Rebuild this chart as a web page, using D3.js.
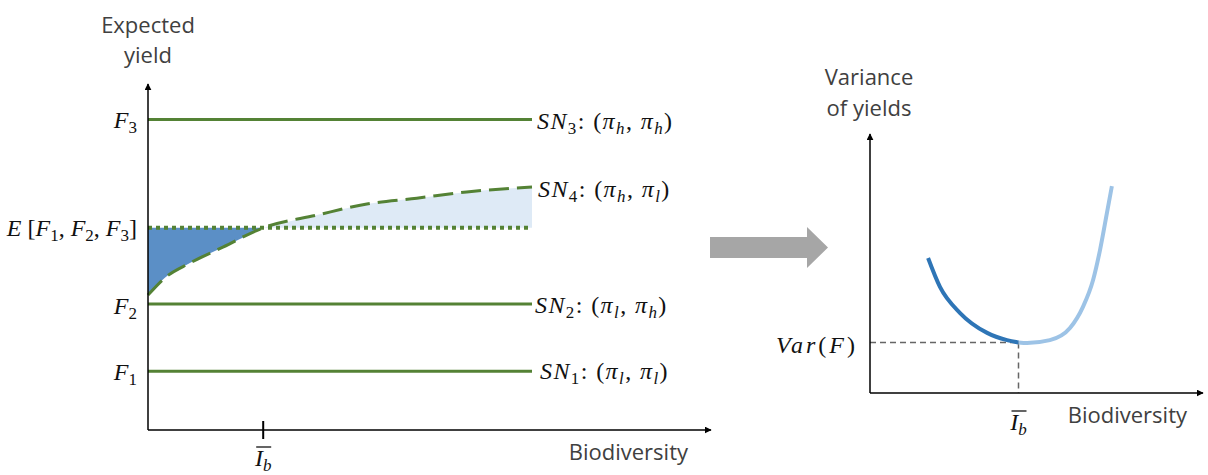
<html>
<head>
<meta charset="utf-8"/>
<title>Expected yield and variance vs biodiversity</title>
<script src="https://d3js.org/d3.v7.min.js"></script>
</head>
<style>
    body { margin: 0; background: #fff; }
    svg { display: block; }
    .lab { font-family: "Open Sans", Lato, sans-serif; fill: #404040; font-size: 22px; }
    .math { font-family: "Liberation Serif", "DejaVu Serif", serif; fill: #111; font-size: 24px; }
</style>
<body>
<svg class="main" width="1208" height="475"></svg>
</body>
<script>
    // left panel: horizontal yield levels
    var levels = [
        {name: "F3", y: 90, sn: [["S", 1], ["N", 1], ["3", 0, 1], [": (", 0], ["π", 1], ["h", 1, 1], [", ", 0], ["π", 1], ["h", 1, 1], [")", 0]]},
        {name: "F2", y: 36.5, sn: [["S", 1], ["N", 1], ["2", 0, 1], [": (", 0], ["π", 1], ["l", 1, 1], [", ", 0], ["π", 1], ["h", 1, 1], [")", 0]]},
        {name: "F1", y: 17, sn: [["S", 1], ["N", 1], ["1", 0, 1], [": (", 0], ["π", 1], ["l", 1, 1], [", ", 0], ["π", 1], ["l", 1, 1], [")", 0]]}
    ]
    var expected = 58.6
    var ibLeft = 30
    // SN4 dashed curve (biodiversity, expected yield)
    var sn4X = [0, 4.4, 10.9, 19.5, 30, 44, 57, 70, 83, 100]
    var sn4Y = [39.1, 44.1, 48.4, 53.0, 58.6, 62.3, 65.5, 67.2, 69.0, 70.4]

    // right panel: variance curve, split at I_b
    var ibRight = 45
    var varF = 19.6
    var darkX = [17.6, 21.2, 27.3, 35.5, 41.5, 45]
    var darkY = [52.3, 41.1, 31.0, 23.3, 20.5, 19.6]
    var lightX = [45, 47.6, 54.5, 60.6, 64.5, 67.6, 69.7, 71.8, 73.3]
    var lightY = [19.6, 19.4, 20.5, 25.2, 33.3, 43.8, 55.4, 69.8, 80.2]

    var green = "#548235"
    var svg = d3.select("svg.main")

    var defs = svg.append("defs")
    defs.append("marker")
        .attr("id", "arr")
        .attr("viewBox", "0 0 10 10")
        .attr("refX", 9).attr("refY", 5)
        .attr("markerWidth", 7).attr("markerHeight", 7)
        .attr("markerUnits", "userSpaceOnUse")
        .attr("orient", "auto")
        .append("path")
        .attr("d", "M0,0L10,5L0,10Z")
        .attr("fill", "#000")

    function mathText(g, x, y, parts, anchor, spacing) {
        var t = g.append("text").attr("class", "math").attr("x", x).attr("y", y)
            .attr("text-anchor", anchor || "start")
            .style("letter-spacing", (spacing || 0) + "px")
        var prevSub = false
        parts.forEach(function (p) {
            var s = t.append("tspan").text(p[0])
                .style("font-style", p[1] ? "italic" : "normal")
            if (p[2]) s.attr("dy", prevSub ? 0 : 5).style("font-size", "17px")
            else s.attr("dy", prevSub ? -5 : 0)
            prevSub = !!p[2]
        })
        return t
    }

    // ---------- left chart ----------
    var xL = d3.scaleLinear().domain([0, 100]).range([148, 532])
    var yL = d3.scaleLinear().domain([0, 100]).range([430, 85])
    var L = svg.append("g")

    var pts = sn4X.map(function (x, i) { return {x: x, y: sn4Y[i]} })
    var darkPts = pts.filter(function (d) { return d.x <= ibLeft })
    var lightPts = pts.filter(function (d) { return d.x >= ibLeft })

    // keep the shaded areas inside the band between the curve ends
    defs.append("clipPath").attr("id", "band")
        .append("rect")
        .attr("x", xL(0)).attr("width", xL(100) - xL(0))
        .attr("y", yL(d3.max(sn4Y)) - 2)
        .attr("height", yL(d3.min(sn4Y)) - yL(d3.max(sn4Y)) + 4)

    var area = d3.area().curve(d3.curveMonotoneX)
        .x(function (d) { return xL(d.x) })
        .y0(function () { return yL(expected) })
        .y1(function (d) { return yL(d.y) })

    var shade = L.append("g").attr("clip-path", "url(#band)")
    shade.append("path").datum(darkPts).attr("d", area).attr("fill", "#5b8fc6")
    shade.append("path").datum(lightPts).attr("d", area).attr("fill", "#deeaf6")

    levels.forEach(function (lv) {
        L.append("line")
            .attr("x1", xL(0)).attr("x2", xL(100))
            .attr("y1", yL(lv.y)).attr("y2", yL(lv.y))
            .attr("stroke", green).attr("stroke-width", 3)
    })

    L.append("line")
        .attr("x1", xL(0)).attr("x2", xL(100))
        .attr("y1", yL(expected)).attr("y2", yL(expected))
        .attr("stroke", green).attr("stroke-width", 4)
        .attr("stroke-dasharray", "4,4")

    L.append("path").datum(pts)
        .attr("d", d3.line().curve(d3.curveMonotoneX)
            .x(function (d) { return xL(d.x) })
            .y(function (d) { return yL(d.y) }))
        .attr("fill", "none").attr("stroke", green).attr("stroke-width", 3)
        .attr("stroke-dasharray", "20,8")

    // axes
    L.append("line").attr("x1", xL(0)).attr("y1", yL(0)).attr("x2", xL(0)).attr("y2", 84)
        .attr("stroke", "#000").attr("stroke-width", 1.5).attr("marker-end", "url(#arr)")
    L.append("line").attr("x1", xL(0)).attr("y1", yL(0)).attr("x2", 711).attr("y2", yL(0))
        .attr("stroke", "#000").attr("stroke-width", 1.5).attr("marker-end", "url(#arr)")
    L.append("line").attr("x1", xL(ibLeft)).attr("x2", xL(ibLeft))
        .attr("y1", yL(0) - 9).attr("y2", yL(0) + 9)
        .attr("stroke", "#000").attr("stroke-width", 2)

    // level labels
    var yLabels = [
        {y: 90, dy: 8, parts: [["F", 1], ["3", 0, 1]]},
        {y: 36.5, dy: 10, parts: [["F", 1], ["2", 0, 1]]},
        {y: 17, dy: 9, parts: [["F", 1], ["1", 0, 1]]},
        {y: expected, dy: 8, parts: [["E", 1], [" [", 0], ["F", 1], ["1", 0, 1], [", ", 0], ["F", 1], ["2", 0, 1], [", ", 0], ["F", 1], ["3", 0, 1], ["]", 0]]}
    ]
    yLabels.forEach(function (d) {
        mathText(L, 137, yL(d.y) + d.dy, d.parts, "end")
    })

    var snLabels = [
        {y: 90, x: 537, dy: 9, parts: levels[0].sn},
        {y: 70.4, x: 538, dy: 10, parts: [["S", 1], ["N", 1], ["4", 0, 1], [": (", 0], ["π", 1], ["h", 1, 1], [", ", 0], ["π", 1], ["l", 1, 1], [")", 0]]},
        {y: 36.5, x: 535, dy: 9, parts: levels[1].sn},
        {y: 17, x: 540, dy: 8, parts: levels[2].sn}
    ]
    snLabels.forEach(function (d) {
        mathText(L, d.x, yL(d.y) + d.dy, d.parts, "start", 1.4)
    })

    L.append("text").attr("class", "lab").attr("x", 148).attr("y", 33).attr("text-anchor", "middle").text("Expected")
    L.append("text").attr("class", "lab").attr("x", 148).attr("y", 63).attr("text-anchor", "middle").text("yield")
    L.append("text").attr("class", "lab").attr("x", 688).attr("y", 460).attr("text-anchor", "end").text("Biodiversity")

    function ibLabel(g, x, y) {
        mathText(g, x, y, [["I", 1], ["b", 1, 1]], "middle")
        g.append("line").attr("x1", x - 7).attr("x2", x + 8)
            .attr("y1", y - 19).attr("y2", y - 19)
            .attr("stroke", "#111").attr("stroke-width", 1.3)
    }
    ibLabel(L, xL(ibLeft), 466)

    // ---------- gray arrow ----------
    svg.append("path")
        .attr("d", "M710,237H807V227L828,247.5L807,268V258H710Z")
        .attr("fill", "#a6a6a6")

    // ---------- right chart ----------
    var xR = d3.scaleLinear().domain([0, 100]).range([870, 1200])
    var yR = d3.scaleLinear().domain([0, 100]).range([393, 135])
    var R = svg.append("g")

    R.append("line").attr("x1", xR(0)).attr("x2", xR(ibRight))
        .attr("y1", yR(varF)).attr("y2", yR(varF))
        .attr("stroke", "#666").attr("stroke-width", 1.5).attr("stroke-dasharray", "6,4")
    R.append("line").attr("x1", xR(ibRight)).attr("x2", xR(ibRight))
        .attr("y1", yR(varF)).attr("y2", yR(0))
        .attr("stroke", "#666").attr("stroke-width", 1.5).attr("stroke-dasharray", "6,4")

    var lineR = d3.line().curve(d3.curveMonotoneX)
        .x(function (d) { return xR(d[0]) })
        .y(function (d) { return yR(d[1]) })
    R.append("path").datum(d3.zip(lightX, lightY)).attr("d", lineR)
        .attr("fill", "none").attr("stroke", "#9dc3e6").attr("stroke-width", 4)
    R.append("path").datum(d3.zip(darkX, darkY)).attr("d", lineR)
        .attr("fill", "none").attr("stroke", "#2e75b6").attr("stroke-width", 4)

    R.append("line").attr("x1", xR(0)).attr("y1", yR(0)).attr("x2", xR(0)).attr("y2", 134)
        .attr("stroke", "#000").attr("stroke-width", 1.5).attr("marker-end", "url(#arr)")
    R.append("line").attr("x1", xR(0)).attr("y1", yR(0)).attr("x2", 1203).attr("y2", yR(0))
        .attr("stroke", "#000").attr("stroke-width", 1.5).attr("marker-end", "url(#arr)")

    mathText(R, 858, 353, [["Var", 1], ["(", 0], ["F", 1], [")", 0]], "end", 3)
    ibLabel(R, xR(ibRight), 430)

    R.append("text").attr("class", "lab").attr("x", 869).attr("y", 85).attr("text-anchor", "middle").text("Variance")
    R.append("text").attr("class", "lab").attr("x", 869).attr("y", 116).attr("text-anchor", "middle").text("of yields")
    R.append("text").attr("class", "lab").attr("x", 1187).attr("y", 423).attr("text-anchor", "end").text("Biodiversity")
</script>
</html>
